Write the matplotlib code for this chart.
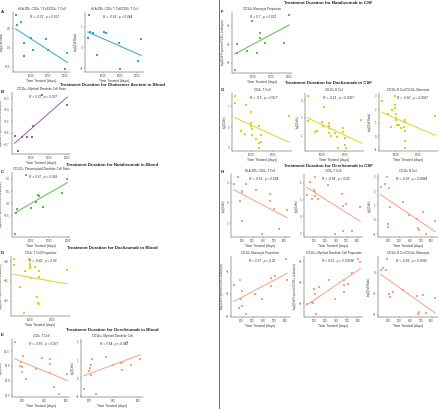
import matplotlib
matplotlib.use("Agg")
import matplotlib.pyplot as plt
import numpy as np

plt.rcParams["font.family"] = ["Liberation Sans", "DejaVu Sans"]

W, H = 440, 409

TEAL = "#2fa7c6"
PURPLE = "#9262ad"
GREEN = "#5cbd4c"
YELLOW = "#d6d61e"
SALMON = "#f6a183"

PROP = "log2(Cell Proportion/CD45+ Leukocyte)"
CELLS = "log2(Cells)"
RATIO = "log2(Cell Ratio)"
XLAB = "Time Treated (days)"

# --- Glatiramer acetate, blood
a1_x = [60, 170, 360, 550, 550, 1000, 1100, 1870, 2000, 3000, 3130]
a1_y = [0.87, 0.59, 0.68, 0.13, -0.23, 0.26, -0.07, 0.23, -0.07, -0.57, -0.15]
a2_x = [110, 205, 245, 430, 635, 1100, 1180, 1960, 2020, 3080, 3270]
a2_y = [0.48, 1.58, 0.77, 0.69, -0.35, 0.74, 0.71, 0.24, -1.05, -0.65, 0.4]
b_x = [125, 290, 520, 785, 1090, 1140, 1590, 3000]
b_y = [-0.63, -0.76, -0.64, -0.635, -0.64, -0.54, -0.27, -0.36]

# --- Natalizumab, blood / CSF
c_x = [90, 160, 210, 740, 965, 1260, 1390, 1420, 1670, 2670, 2980]
c_y = [-1.26, -0.38, -0.24, 1.16, -0.19, 0.07, 0.35, 0.29, -0.16, 0.41, 1.0]
f_x = [35, 140, 175, 715, 955, 1250, 1390, 1430, 1650, 2700, 2990]
f_y = [-3.4, -2.49, -2.0, -2.36, -0.76, -2.49, -1.42, -1.67, -1.96, -1.96, -0.42]

# --- Daclizumab, blood / CSF
d_x = [270, 290, 560, 710, 780, 960, 985, 985, 985, 1060, 1240, 1310, 1360, 1390, 1410, 1390, 2670]
d_y = [-9.88, -10.22, -11.29, -12.64, -10.49, -9.88, -10.14, -10.25, -10.36, -10.86,
       -10.32, -11.83, -12.12, -12.17, -10.49, -10.81, -10.47]
g1_x = [257, 257, 786, 1000, 1014, 1014, 1043, 1043, 543, 729, 1229, 1371, 1429, 1429, 1371, 1371, 2729]
g1_y = [7.52, 7.15, 7.06, 6.75, 6.22, 6.06, 5.92, 5.62, 5.83, 5.68, 5.42, 6.06, 5.6, 5.29, 5.26, 4.98, 6.54]
g2_x = [360, 360, 660, 780, 985, 1045, 1075, 1300, 1300, 1300, 1300, 1370, 1580, 1660,
        1925, 1925, 2000, 2000, 1700, 2045, 2715]
g2_y = [4.27, 2.85, 2.22, 2.27, 2.76, 2.55, 3.64, 2.45, 2.73, 2.55, 2.13, 1.95, 2.15, 1.91,
        2.45, 2.18, 1.85, 1.45, 1.31, 1.27, 2.91]
g3_x = [400, 686, 829, 786, 971, 971, 1000, 1014, 1014, 1043, 1086, 1143, 1257, 1371,
        1400, 1371, 1400, 1429, 1429, 2729]
g3_y = [2.6, 1.64, 1.93, 0.69, 3.0, 2.29, 2.12, 1.64, 1.33, 1.21, 0.86, 0.81, 0.57, 1.05,
        1.17, 0.69, 0.38, -0.38, -0.9, 1.52]

# --- Ocrelizumab, blood / CSF
e1_x = [130, 180, 186, 200, 200, 210, 234, 324, 375, 450, 456, 456, 490, 534, 610]
e1_y = [14.33, 13.51, 13.64, 13.45, 13.28, 13.84, 13.07, 13.39, 13.78, 13.75, 13.58, 13.26, 12.79, 12.53, 13.21]
e2_x = [160, 200, 208, 221, 221, 227, 261, 340, 395, 460, 466, 466, 507, 541, 613]
e2_y = [-0.58, 0.42, 0.56, 0.16, 0.7, 1.04, -0.9, 1.18, 0.74, 0.86, 0.91, 0.44, 2.02, 0.74, 1.04]
h1_x = [124, 168, 182, 197, 206, 197, 235, 329, 388, 462, 462, 500, 544, 624]
h1_y = [4.92, 5.3, 4.08, 4.53, 4.58, 3.08, 4.95, 4.67, 2.45, 4.45, 4.08, 3.7, 2.72, 3.63]
h2_x = [129, 159, 179, 194, 203, 203, 209, 238, 326, 394, 459, 468, 468, 497, 547, 626]
h2_y = [5.3, 6.04, 5.06, 5.6, 6.36, 5.24, 5.46, 5.06, 5.9, 2.94, 5.36, 3.14, 4.6, 4.76, 3.1, 4.54]
h3_x = [131, 170, 185, 206, 212, 200, 200, 334, 394, 466, 475, 481, 519, 549, 633]
h3_y = [2.3, 2.53, 3.0, 2.23, 0.87, -0.3, -0.53, 1.25, 0.36, 0.05, -0.58, -0.74, 0.52, -1.0, -0.06]
h4_x = [126, 174, 185, 194, 200, 203, 238, 326, 385, 468, 468, 509, 621, 606]
h4_y = [-1.6, -2.64, -1.39, -2.21, -1.86, -2.53, -2.9, -2.0, -2.21, -1.31, -1.64, -1.19, -1.36, -0.44]
h5_x = [129, 179, 185, 200, 209, 215, 244, 332, 391, 468, 468, 468, 509, 547, 621, 600]
h5_y = [-4.04, -3.94, -3.97, -3.34, -3.55, -4.52, -3.22, -2.88, -3.79, -2.88, -3.48, -3.15,
        -3.1, -2.55, -2.03, -1.88]
h6_x = [131, 176, 185, 206, 212, 242, 334, 466, 481, 475, 519, 549, 633, 150]
h6_y = [0.15, 0.12, 0.66, -1.0, -1.15, -0.92, -0.8, -1.11, -1.85, -1.97, -1.05, -1.92, -1.2, 0.23]

LONG_TICKS = [1000, 2000, 3000]
SHORT_TICKS = [1000, 2000]
OCR_BLOOD_TICKS = [200, 400, 600]
OCR_CSF_TICKS = [200, 300, 400, 500, 600]

fig = plt.figure(figsize=(W / 100, H / 100), dpi=100)


def panel(box, x, y, color, title, stat, ylabel, xticks, yticks):
    l, t, r, b = box
    ax = fig.add_axes([l / W, 1 - b / H, (r - l) / W, (b - t) / H])
    x = np.asarray(x, float)
    y = np.asarray(y, float)
    ax.scatter(x, y, s=1.6, color=color, marker="s", linewidths=0, zorder=3)
    k, c = np.polyfit(x, y, 1)
    xs = np.array([x.min(), x.max()])
    ax.plot(xs, k * xs + c, color=color, lw=0.7, zorder=2)
    ax.set_xticks(xticks)
    ax.set_yticks(yticks)
    for side in ["top", "right"]:
        ax.spines[side].set_visible(False)
    for side in ["left", "bottom"]:
        ax.spines[side].set_linewidth(0.35)
        ax.spines[side].set_color("#444444")
    ax.tick_params(labelsize=2.0, length=1.0, width=0.3, pad=0.6, colors="#444444")
    ax.set_title(title, fontsize=2.2, pad=1.5, color="#333333")
    ax.set_xlabel(XLAB, fontsize=2.4, labelpad=0.8, color="#333333")
    ax.set_ylabel(ylabel, fontsize=1.9, labelpad=0.8, color="#333333")
    ax.text(0.3, 0.9, stat, transform=ax.transAxes, fontsize=2.3, color="#333333",
            style="italic")
    return ax


def section(xc, y, text):
    fig.text(xc / W, 1 - y / H, text, ha="center", va="center", fontsize=3.2,
             fontweight="bold", color="#222222")


def letter(x, y, text):
    fig.text(x / W, 1 - y / H, text, ha="left", va="center", fontsize=3.2,
             fontweight="bold", color="#222222")


# left column
panel((13, 12, 70, 72), a1_x, a1_y, TEAL, "HLA-DR+ CD4+ T Cell/CD4+ T Cell",
      "R = -0.72 , p = 0.017", RATIO, LONG_TICKS, [-0.5, 0.0, 0.5])
panel((85, 12, 144, 72), a2_x, a2_y, TEAL, "HLA-DR+ CD8+ T Cell/CD8+ T Cell",
      "R = -0.63 , p = 0.044", RATIO, LONG_TICKS, [-1, 0, 1])
section(112, 85, "Treatment Duration for Glatiramer Acetate in Blood")
panel((12, 92, 70, 154), b_x, b_y, PURPLE, "CD11c+ Myeloid Dendritic Cell Ratio",
      "R = 0.72 , p = 0.037", PROP, LONG_TICKS, [-0.7, -0.6, -0.5, -0.4, -0.3])
section(112, 165, "Treatment Duration for Natalizumab in Blood")
panel((12, 172, 70, 237), c_x, c_y, GREEN, "CD123+ Plasmacytoid Dendritic Cell Ratio",
      "R = 0.67 , p = 0.028", PROP, LONG_TICKS, [-0.5, 0.0, 0.5, 1.0])
section(112, 248, "Treatment Duration for Daclizumab in Blood")
panel((11, 256, 70, 316), d_x, d_y, YELLOW, "CD4+ T Cell Proportion",
      "R = -0.42 , p = 0.09", PROP, SHORT_TICKS, [-12, -11, -10])
section(112, 330, "Treatment Duration for Ocrelizumab in Blood")
panel((12, 339, 70, 397), e1_x, e1_y, SALMON, "CD8+ T Cell",
      "R = -0.50 , p = 0.027", CELLS, OCR_BLOOD_TICKS, [12.5, 13.0, 13.5, 14.0])
panel((81, 339, 143, 397), e2_x, e2_y, SALMON, "CD11c+ Myeloid Dendritic Cell",
      "R = 0.54 , p = 0.042", CELLS, OCR_BLOOD_TICKS, [-1, 0, 1, 2])

# right column
section(328, 3, "Treatment Duration for Natalizumab in CSF")
panel((232, 12, 292, 73), f_x, f_y, GREEN, "CD14+ Monocyte Proportion",
      "R = 0.7 , p = 0.021", PROP, LONG_TICKS, [-3, -2, -1])
section(328, 83, "Treatment Duration for Daclizumab in CSF")
panel((232, 93, 292, 151), g1_x, g1_y, YELLOW, "CD4+ T Cell",
      "R = -0.5 , p = 0.017", CELLS, SHORT_TICKS, [5, 6, 7])
panel((305, 93, 364, 151), g2_x, g2_y, YELLOW, "CD19+ B Cell",
      "R = -0.61 , p = 0.0027", CELLS, SHORT_TICKS, [2, 3, 4])
panel((379, 93, 438, 151), g3_x, g3_y, YELLOW, "CD19+ B Cell/CD14+ Monocyte",
      "R = -0.62 , p = 0.0027", RATIO, SHORT_TICKS, [-1, 0, 1, 2, 3])
section(328, 166, "Treatment Duration for Ocrelizumab in CSF")
panel((231, 174, 290, 237), h1_x, h1_y, SALMON, "HLA-DR+ CD4+ T Cell",
      "R = -0.56 , p = 0.034", CELLS, OCR_CSF_TICKS, [3, 4, 5])
panel((304, 174, 363, 237), h2_x, h2_y, SALMON, "CD8+ T Cell",
      "R = -0.54 , p = 0.03", CELLS, OCR_CSF_TICKS, [3, 4, 5, 6])
panel((378, 174, 438, 237), h3_x, h3_y, SALMON, "CD19+ B Cell",
      "R = -0.65 , p = 0.0084", CELLS, OCR_CSF_TICKS, [-1, 0, 1, 2, 3])
panel((231, 256, 290, 317), h4_x, h4_y, SALMON, "CD14+ Monocyte Proportion",
      "R = 0.57 , p = 0.02", PROP, OCR_CSF_TICKS, [-3, -2, -1])
panel((304, 256, 363, 317), h5_x, h5_y, SALMON, "CD11c+ Myeloid Dendritic Cell Proportion",
      "R = 0.61 , p = 0.00034", PROP, OCR_CSF_TICKS, [-4, -3, -2])
panel((378, 256, 438, 317), h6_x, h6_y, SALMON, "CD19+ B Cell/CD14+ Monocyte",
      "R = -0.63 , p = 0.0091", RATIO, OCR_CSF_TICKS, [-2, -1, 0])

for lab, lx, ly in [("A", 1, 12), ("B", 1, 92), ("C", 1, 172), ("D", 1, 253), ("E", 1, 335),
                    ("F", 221, 12), ("G", 221, 90), ("H", 221, 172)]:
    letter(lx, ly, lab)

# column divider
fig.add_artist(plt.Line2D([218.5 / W, 218.5 / W], [0, 1], transform=fig.transFigure,
                          color="#555555", lw=0.6))

fig.savefig("out.png", dpi=100, facecolor="white")
